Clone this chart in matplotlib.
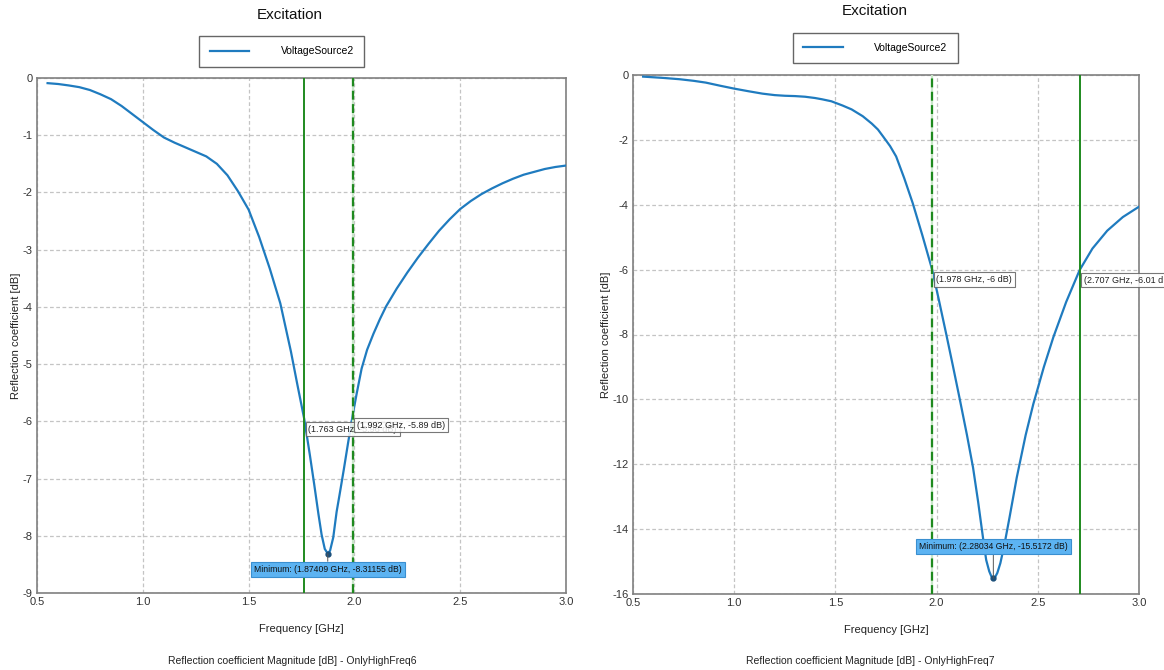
import matplotlib
matplotlib.use('Agg')
import matplotlib.pyplot as plt

plt.rcParams['font.family'] = ['Liberation Sans', 'DejaVu Sans']
plt.rcParams['axes.unicode_minus'] = False

# OnlyHighFreq6 sweep
freq6 = [0.55, 0.60, 0.65, 0.70, 0.75, 0.80, 0.85, 0.90, 0.95, 1.00, 1.05, 1.10, 1.15,
         1.20, 1.25, 1.30, 1.35, 1.40, 1.45, 1.50, 1.55, 1.60, 1.65, 1.70, 1.73, 1.763,
         1.79, 1.81, 1.83, 1.845, 1.86, 1.87409, 1.885, 1.90, 1.916, 1.93, 1.95, 1.97,
         1.992, 2.01, 2.034, 2.06, 2.09, 2.121, 2.15, 2.20, 2.25, 2.30, 2.35, 2.40, 2.45,
         2.50, 2.55, 2.60, 2.65, 2.70, 2.75, 2.80, 2.85, 2.90, 2.95, 3.00]
s11_6 = [-0.09, -0.105, -0.13, -0.16, -0.21, -0.285, -0.37, -0.49, -0.63, -0.77, -0.91,
         -1.04, -1.13, -1.21, -1.29, -1.37, -1.50, -1.70, -1.98, -2.30, -2.78, -3.33,
         -3.94, -4.78, -5.35, -5.96, -6.60, -7.10, -7.62, -7.98, -8.23, -8.31155, -8.26,
         -8.03, -7.58, -7.28, -6.84, -6.38, -5.89, -5.53, -5.08, -4.75, -4.47, -4.21,
         -3.99, -3.68, -3.40, -3.14, -2.90, -2.67, -2.47, -2.29, -2.15, -2.03, -1.93,
         -1.84, -1.76, -1.69, -1.64, -1.59, -1.555, -1.53]
mark6_f = [1.763, 1.992]
mark6_db = [-5.96, -5.89]
min6 = (1.87409, -8.31155)

# OnlyHighFreq7 sweep
freq7 = [0.55, 0.65, 0.73, 0.80, 0.86, 0.93, 1.00, 1.07, 1.14, 1.20, 1.25, 1.30, 1.35,
         1.40, 1.435, 1.48, 1.535, 1.58, 1.635, 1.68, 1.71, 1.735, 1.77, 1.80, 1.84,
         1.882, 1.93, 1.978, 2.01, 2.048, 2.08, 2.114, 2.15, 2.18, 2.205, 2.23, 2.245,
         2.26, 2.27, 2.28034, 2.29, 2.30, 2.315, 2.335, 2.36, 2.396, 2.44, 2.478, 2.53,
         2.577, 2.64, 2.707, 2.77, 2.843, 2.92, 3.00]
s11_7 = [-0.05, -0.09, -0.13, -0.18, -0.235, -0.33, -0.42, -0.50, -0.575, -0.62, -0.64,
         -0.65, -0.67, -0.71, -0.75, -0.81, -0.94, -1.06, -1.27, -1.50, -1.68, -1.89,
         -2.19, -2.51, -3.18, -3.95, -4.95, -6.00, -6.90, -8.00, -8.95, -9.98, -11.10,
         -12.10, -13.15, -14.30, -14.95, -15.30, -15.45, -15.5172, -15.47, -15.35,
         -15.05, -14.48, -13.65, -12.41, -11.10, -10.14, -9.00, -8.08, -7.00, -6.01,
         -5.35, -4.80, -4.38, -4.06]
mark7_f = [1.978, 2.707]
mark7_db = [-6.0, -6.01]
min7 = (2.28034, -15.5172)

xticks = [0.5, 1.0, 1.5, 2.0, 2.5, 3.0]
line_blue = '#1f7bbf'
green = '#1f8a1f'


def panel(rect, freq, s11, yticks, marks_f, marks_db, dashed_idx, minimum, min_below,
          legend_x, title_xy, foot_xy, foot):
    ax = fig.add_axes(rect)
    ax.plot(freq, s11, color=line_blue, lw=1.6, label='VoltageSource2', zorder=3)
    ax.set_xlim(0.5, 3.0)
    ax.set_ylim(yticks[-1], yticks[0])
    ax.set_xticks(xticks)
    ax.set_xticklabels(['%.1f' % t for t in xticks])
    ax.set_yticks(yticks)
    ax.grid(True, color='#c4c4c4', ls=(0, (3, 2)), lw=0.9)
    ax.tick_params(length=0, labelsize=8, colors='#333333', pad=3)
    for s in ax.spines.values():
        s.set_color('#808080')
        s.set_linewidth(1.2)
    ax.set_xlabel('Frequency [GHz]', fontsize=8, color='#222222', labelpad=12)
    ax.set_ylabel('Reflection coefficient [dB]', fontsize=8, color='#222222', labelpad=1)

    # cursor lines and their readouts
    for i, (f, d) in enumerate(zip(marks_f, marks_db)):
        if i == dashed_idx:
            ax.axvline(f, color='#c8e6c8', lw=1.6, zorder=4)
            ax.axvline(f, color=green, lw=1.6, ls=(0, (4, 2)), zorder=4)
        else:
            ax.axvline(f, color=green, lw=1.4, zorder=4)
        ax.annotate('(%g GHz, %g dB)' % (f, d), (f, d), xytext=(3, -4),
                    textcoords='offset points', ha='left', va='top', fontsize=6.5,
                    color='#222222', zorder=6, annotation_clip=False,
                    bbox=dict(boxstyle='square,pad=0.3', fc='white', ec='#606060',
                              lw=0.8, alpha=0.85))

    # minimum readout
    mf, md = minimum
    ax.plot([mf], [md], 'o', color='#1b4f7a', ms=3.5, zorder=5)
    off = (0, -8) if min_below else (0, 20)
    ax.annotate('Minimum: (%g GHz, %g dB)' % (mf, md), (mf, md), xytext=off,
                textcoords='offset points', ha='center',
                va='top' if min_below else 'bottom', fontsize=6.2, color='#111111',
                zorder=6,
                bbox=dict(boxstyle='square,pad=0.35', fc='#5cb3f2', ec='#3a8fd0', lw=0.8),
                arrowprops=dict(arrowstyle='-', color='#555555', lw=0.7,
                                shrinkA=0, shrinkB=0))

    leg = ax.legend(loc='center', bbox_to_anchor=(legend_x, 1.052), fontsize=7.5,
                    fancybox=False, edgecolor='#666666', framealpha=1,
                    handlelength=3.8, handletextpad=3.0, borderpad=1.0,
                    borderaxespad=0)
    leg.get_frame().set_linewidth(1.0)
    leg.set_zorder(10)

    fig.text(title_xy[0] / 1164, 1 - title_xy[1] / 670, 'Excitation', ha='center',
             va='center', fontsize=11, color='#111111')
    fig.text(foot_xy[0] / 1164, 1 - foot_xy[1] / 670, foot, ha='center', va='center',
             fontsize=7.5, color='#222222')
    return ax


fig = plt.figure(figsize=(11.64, 6.70), dpi=100)

panel([37 / 1164, 77 / 670, 529 / 1164, 515 / 670], freq6, s11_6,
      [0, -1, -2, -3, -4, -5, -6, -7, -8, -9], mark6_f, mark6_db, 1, min6, True,
      0.463, (290, 15), (292, 661), 'Reflection coefficient Magnitude [dB] - OnlyHighFreq6')

panel([633 / 1164, 76 / 670, 506 / 1164, 519 / 670], freq7, s11_7,
      [0, -2, -4, -6, -8, -10, -12, -14, -16], mark7_f, mark7_db, 0, min7, False,
      0.479, (875, 11), (870, 661), 'Reflection coefficient Magnitude [dB] - OnlyHighFreq7')

fig.savefig('out.png', dpi=100)
